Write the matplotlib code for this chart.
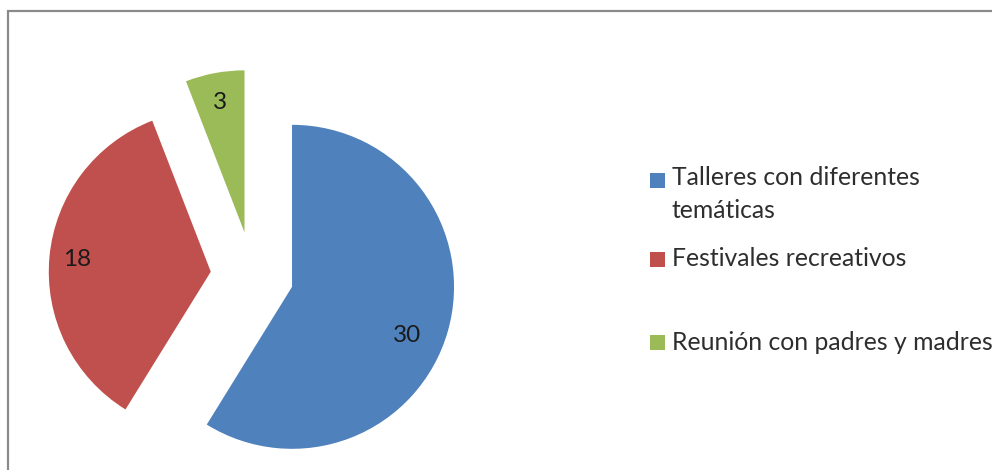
import numpy as np
import matplotlib.pyplot as plt
from matplotlib.patches import Rectangle

# data
categories = ['Talleres con diferentes\ntemáticas', 'Festivales recreativos',
              'Reunión con padres y madres']
values = [30, 18, 3]
colors = ['#4F81BD', '#C0504D', '#9BBB59']

plt.rcParams['font.family'] = ['Lato', 'DejaVu Sans']

fig = plt.figure(figsize=(9.92, 4.70), dpi=100)
ax = fig.add_axes([0, 0, 1, 1])
ax.axis('off')

# chart frame
ax.add_patch(Rectangle((8, -10), 1000, 469, fill=False, edgecolor='#8a8a8a', lw=1.6))

radius = 162
wedges, _ = ax.pie(values, colors=colors, startangle=90, counterclock=False,
                   radius=radius, center=(252.6, 194.4), explode=[41, 42, 44],
                   wedgeprops=dict(linewidth=0))
ax.set_xlim(0, 992)
ax.set_ylim(0, 470)
ax.set_aspect('equal')

# data labels
label_dist = [0.77, 0.83, 0.815]
label_shift = [-7, 0, 0]
for w, v, d, s in zip(wedges, values, label_dist, label_shift):
    ang = np.deg2rad((w.theta1 + w.theta2) / 2 + s)
    cx, cy = w.center
    ax.text(cx + d * radius * np.cos(ang), cy + d * radius * np.sin(ang), str(v),
            ha='center', va='center', fontsize=17.5, color='#1a1a1a')

# legend
leg_y = [180, 259, 342]
for c, lab, y in zip(colors, categories, leg_y):
    ax.add_patch(Rectangle((650, 470 - y - 7.5), 15, 15, facecolor=c, edgecolor='none'))
    if '\n' in lab:
        ax.text(672, 470 - y + 14, lab, ha='left', va='top', fontsize=17.8,
                color='#2e2e2e', linespacing=1.55)
    else:
        ax.text(672, 470 - y, lab, ha='left', va='center', fontsize=17.8,
                color='#2e2e2e')

fig.savefig('out.png', dpi=100)
